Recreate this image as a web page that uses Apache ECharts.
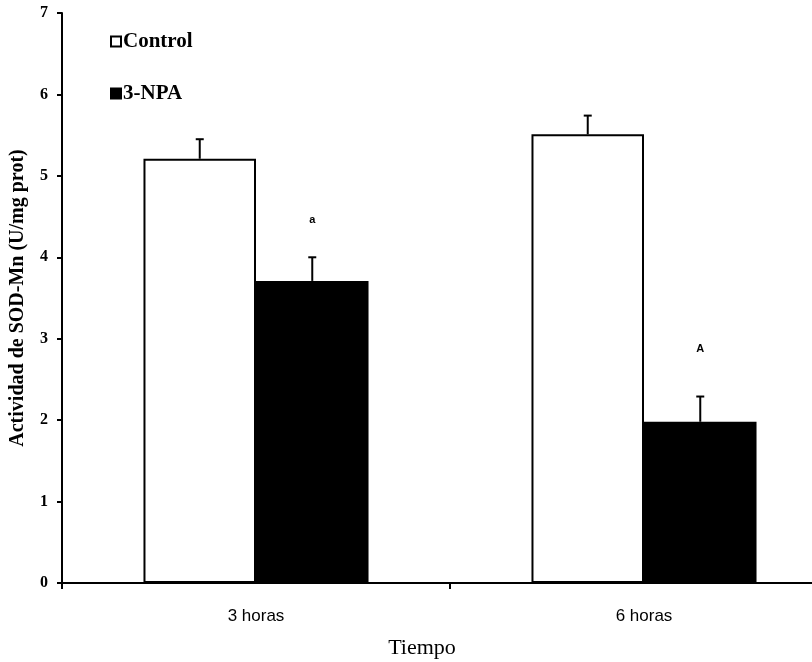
<!DOCTYPE html>
<html>
<head>
<meta charset="utf-8">
<script src="https://cdn.jsdelivr.net/npm/echarts@6/dist/echarts.min.js"></script>
<style>html,body{margin:0;padding:0;background:#fff}#c{width:812px;height:662px}</style>
</head>
<body>
<div id="c"></div>
<script>
const categories = ['3 horas', '6 horas'];
const seriesNames = ['Control', '3-NPA'];
const controlMean = [5.21, 5.51];
const controlErr = [0.24, 0.23];
const npaMean = [3.71, 1.98];
const npaErr = [0.29, 0.31];
const sigLabels = ['a', 'A'];
const sigValues = [4.46, 2.87];
const yTicks = [0, 1, 2, 3, 4, 5, 6, 7];

const BAR_FRAC = 0.29;
const chart = echarts.init(document.getElementById('c'));

const errData = [];
controlMean.forEach((m, i) => errData.push([i, m, controlErr[i], 0]));
npaMean.forEach((m, i) => errData.push([i, m, npaErr[i], 1]));
const sigData = sigLabels.map((t, i) => [i, sigValues[i], 1, t]);

function barOffset(api, which) {
  const band = api.size([1, 0])[0];
  return (which === 0 ? -1 : 1) * band * BAR_FRAC / 2;
}

chart.setOption({
  animation: false,
  backgroundColor: '#fff',
  grid: { left: 62, right: -26, top: 13, bottom: 79, containLabel: false, outerBoundsMode: 'none' },
  legend: {
    orient: 'vertical', left: 110, top: 31, itemGap: 31, padding: 0,
    itemWidth: 10, itemHeight: 10, icon: 'rect',
    textStyle: { fontFamily: 'Liberation Serif', fontWeight: 'bold', fontSize: 21, color: '#000', padding: [0, 0, 0, -3] },
    data: seriesNames
  },
  xAxis: {
    type: 'category', data: categories,
    axisLine: { lineStyle: { color: '#000', width: 2 } },
    axisTick: { show: true, length: 6, lineStyle: { color: '#000', width: 2 } },
    axisLabel: { margin: 25, fontFamily: 'Liberation Sans', fontSize: 17, color: '#000' },
    name: 'Tiempo', nameLocation: 'middle', nameGap: 54,
    nameTextStyle: { fontFamily: 'Liberation Serif', fontSize: 22, color: '#000', padding: [0, 56, 0, 0] }
  },
  yAxis: {
    type: 'value', min: yTicks[0], max: yTicks[yTicks.length - 1], interval: 1,
    splitLine: { show: false },
    axisLine: { show: true, lineStyle: { color: '#000', width: 2 } },
    axisTick: { show: true, length: 5, lineStyle: { color: '#000', width: 2 } },
    axisLabel: { margin: 14, fontFamily: 'Liberation Serif', fontWeight: 'bold', fontSize: 16, color: '#000' },
    name: 'Actividad de SOD-Mn (U/mg prot)', nameLocation: 'middle', nameGap: 34,
    nameTextStyle: { fontFamily: 'Liberation Serif', fontWeight: 'bold', fontSize: 20, color: '#000' }
  },
  series: [
    {
      name: seriesNames[0], type: 'bar', data: controlMean,
      barWidth: (BAR_FRAC * 100) + '%', barGap: '0%',
      itemStyle: { color: '#fff', borderColor: '#000', borderWidth: 2 }
    },
    {
      name: seriesNames[1], type: 'bar', data: npaMean,
      barWidth: (BAR_FRAC * 100) + '%', barGap: '0%',
      itemStyle: { color: '#000', borderColor: '#000', borderWidth: 2 }
    },
    {
      type: 'custom', data: errData, z: 10, silent: true,
      renderItem: function (params, api) {
        const which = api.value(3);
        const off = barOffset(api, which);
        const base = api.coord([api.value(0), api.value(1)]);
        const top = api.coord([api.value(0), api.value(1) + api.value(2)]);
        const x = base[0] + off;
        return {
          type: 'group',
          children: [
            { type: 'line', shape: { x1: x, y1: base[1], x2: x, y2: top[1] }, style: { stroke: '#000', lineWidth: 2 } },
            { type: 'line', shape: { x1: x - 4, y1: top[1], x2: x + 4, y2: top[1] }, style: { stroke: '#000', lineWidth: 2 } }
          ]
        };
      }
    },
    {
      type: 'custom', data: sigData, z: 10, silent: true,
      renderItem: function (params, api) {
        const which = api.value(2);
        const off = barOffset(api, which);
        const p = api.coord([api.value(0), api.value(1)]);
        return {
          type: 'text',
          style: {
            x: p[0] + off, y: p[1], text: sigLabels[params.dataIndex],
            textAlign: 'center', textVerticalAlign: 'middle',
            font: 'bold 11px "Liberation Sans"', fill: '#000'
          }
        };
      }
    }
  ]
});
</script>
</body>
</html>
